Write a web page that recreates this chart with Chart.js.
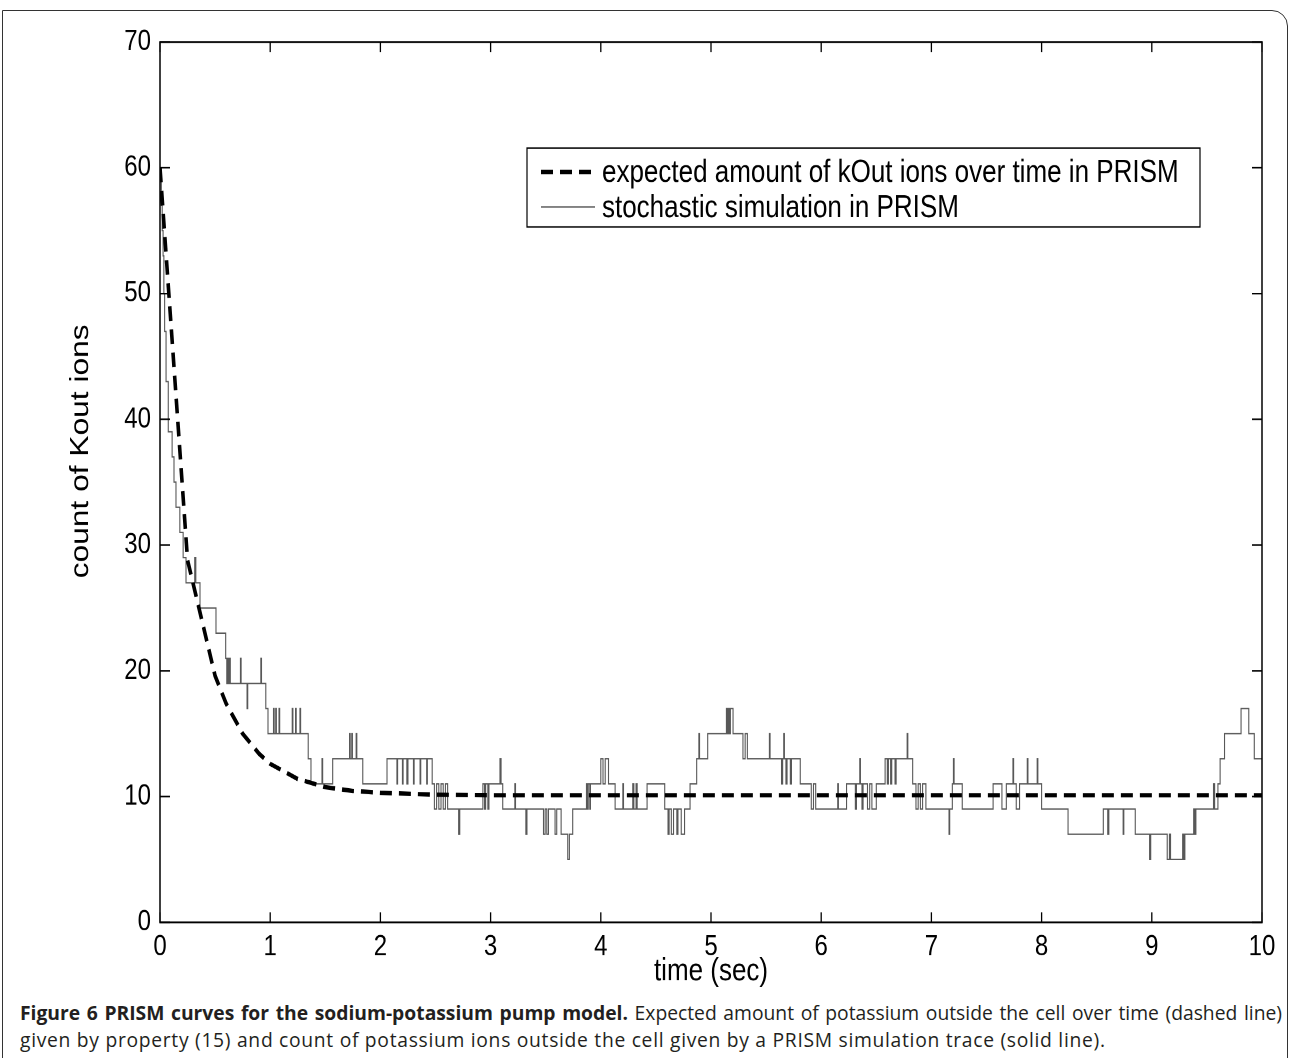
<!DOCTYPE html>
<html>
<head>
<meta charset="utf-8">
<script src="https://cdn.jsdelivr.net/npm/chart.js@4.4.1/dist/chart.umd.min.js"></script>
<style>
  html, body { margin: 0; padding: 0; background: #fff; }
  body { width: 1293px; height: 1058px; position: relative; overflow: hidden; }
  #frame { position: absolute; left: 2px; top: 10px; width: 1286px; height: 1100px;
           border: 1.5px solid #333; border-top-right-radius: 16px; box-sizing: border-box; }
  #wrap { position: absolute; left: 0; top: 0; width: 1293px; height: 812px;
          transform: scaleY(1.22); transform-origin: 0 0; }
  #caption { position: absolute; left: 20px; top: 999px; width: 1262px;
             font-family: "Open Sans", "Noto Sans", sans-serif; font-size: 19.3px; line-height: 27px; color: #231f20; }
  #caption .l1 { text-align: justify; text-align-last: justify; white-space: nowrap; }
  #caption .l2 { letter-spacing: 0.7px; white-space: nowrap; }
  #caption b { font-weight: 700; }
</style>
</head>
<body>
<div id="frame"></div>
<div id="wrap"><canvas id="c" width="1293" height="812"></canvas></div>
<div id="caption">
  <div class="l1"><b>Figure 6 PRISM curves for the sodium-potassium pump model.</b> Expected amount of potassium outside the cell over time (dashed line)</div>
  <div class="l2">given by property (15) and count of potassium ions outside the cell given by a PRISM simulation trace (solid line).</div>
</div>
<script>
// ---- data ----
const xTicks = [0,1,2,3,4,5,6,7,8,9,10];
const yTicks = [0,10,20,30,40,50,60,70];
const xTitle = 'time (sec)';
const yTitle = 'count of Kout ions';

const expLabel = "expected amount of kOut ions over time in PRISM";
const expTime  = [0, 0.25, 0.5, 0.6, 0.75, 0.9, 1.0, 1.25, 1.5, 1.75, 2.0, 2.5, 3, 4, 5, 6, 7, 8, 9, 10];
const expCount = [60, 28.8, 19.6, 17.4, 15.0, 13.4, 12.6, 11.4, 10.75, 10.45, 10.3, 10.15, 10.1, 10.1, 10.1, 10.1, 10.1, 10.1, 10.1, 10.1];

const simLabel = "stochastic simulation in PRISM";
const simTime = [0,0.012,0.02,0.028,0.035,0.042,0.055,0.075,0.11,0.127,0.145,0.18,0.21,0.236,0.315,0.325,0.363,0.508,0.596,0.606,0.612,0.62,0.63,0.638,0.73,0.736,0.79,0.796,0.915,0.921,0.96,0.98,
1.03,1.036,1.05,1.056,1.08,1.086,1.2,1.206,1.23,1.236,1.27,1.276,1.345,1.37,1.47,1.476,1.567,1.72,1.726,1.74,1.746,1.78,1.786,1.84,
2.06,2.15,2.156,2.2,2.206,2.24,2.25,2.3,2.306,2.36,2.366,2.42,2.426,2.47,2.49,2.51,2.53,2.55,2.57,2.59,2.61,2.71,2.72,2.93,2.945,2.955,2.975,2.985,
3.085,3.095,3.11,3.22,3.226,3.32,3.33,3.48,3.495,3.51,3.525,3.585,3.6,3.64,3.7,3.715,3.745,3.87,3.88,3.886,3.9,3.906,
4.0,4.02,4.04,4.07,4.13,4.2,4.206,4.29,4.3,4.32,4.33,4.42,4.58,4.61,4.62,4.64,4.66,4.69,4.7,4.73,4.76,4.81,4.87,4.89,4.896,4.97,
5.14,5.146,5.156,5.166,5.176,5.2,5.29,5.31,5.33,5.53,5.536,5.64,5.65,5.66,5.666,5.68,5.69,5.72,5.73,5.81,5.91,5.93,5.95,
6.15,6.156,6.23,6.31,6.32,6.35,6.356,6.37,6.38,6.42,6.44,6.46,6.5,6.58,6.6,6.61,6.63,6.64,6.67,6.68,6.78,6.786,6.83,6.86,6.88,6.9,6.92,6.95,
7.16,7.166,7.19,7.2,7.206,7.28,7.56,7.64,7.68,7.74,7.746,7.77,7.8,7.87,7.876,7.96,7.966,
8.0,8.24,8.56,8.6,8.61,8.74,8.746,8.85,8.98,8.99,
9.14,9.16,9.17,9.28,9.29,9.3,9.38,9.39,9.4,9.56,9.57,9.6,9.62,9.66,9.81,9.88,9.93,10];
const simCount = [60,57,55,53,50,47,43,39,37,35,33,31,29,27,29,27,25,23,21,19,21,19,21,19,21,19,17,19,21,19,17,15,
17,15,17,15,17,15,17,15,17,15,17,15,13,11,13,11,13,15,13,15,13,15,13,11,
13,11,13,11,13,11,13,11,13,11,13,11,13,11,9,11,9,11,9,11,9,7,9,11,9,11,9,11,
13,11,9,11,9,7,9,7,9,7,9,7,9,7,5,7,9,11,9,11,9,11,
13,11,13,11,9,11,9,11,9,11,9,11,9,7,9,7,9,7,9,7,9,11,13,15,13,15,
17,15,17,15,17,15,13,15,13,15,13,11,13,15,13,11,13,11,13,11,9,11,9,
11,9,11,9,11,13,11,9,11,9,11,9,11,13,11,13,11,13,11,13,15,13,11,9,11,9,11,9,
7,9,11,13,11,9,11,9,11,13,11,9,11,13,11,13,11,
9,7,9,7,9,7,9,7,5,7,
5,7,5,7,5,7,9,7,9,11,9,11,13,15,17,15,13,13];

const toPts = (xs, ys) => xs.map((x, i) => ({x: x, y: ys[i]}));

const AXIS_FONT = "'Liberation Sans', Arial, Helvetica, sans-serif";
const SY = 1.22; // the original figure is stretched vertically

// ---- plugins: box with inward ticks, and legend box ----
const boxPlugin = {
  id: 'boxTicks',
  afterDatasetsDraw(chart) {
    const {ctx, chartArea: a, scales} = chart;
    ctx.save();
    ctx.strokeStyle = '#000';
    ctx.lineWidth = 1.3;
    const LX = 10 / SY, LY = 10;
    ctx.beginPath();
    scales.x.ticks.forEach(t => {
      const px = scales.x.getPixelForValue(t.value);
      ctx.moveTo(px, a.bottom); ctx.lineTo(px, a.bottom - LX);
      ctx.moveTo(px, a.top); ctx.lineTo(px, a.top + LX);
    });
    scales.y.ticks.forEach(t => {
      const py = scales.y.getPixelForValue(t.value);
      ctx.moveTo(a.left, py); ctx.lineTo(a.left + LY, py);
      ctx.moveTo(a.right, py); ctx.lineTo(a.right - LY, py);
    });
    ctx.stroke();
    ctx.lineWidth = 1.5;
    ctx.strokeRect(a.left, a.top, a.right - a.left, a.bottom - a.top);
    ctx.restore();
  }
};

const legendPlugin = {
  id: 'boxLegend',
  afterDraw(chart) {
    const {ctx} = chart;
    const ds = chart.data.datasets;
    const bx = 527, by = 148 / SY, bw = 673, bh = 79 / SY;
    ctx.save();
    ctx.fillStyle = '#fff';
    ctx.fillRect(bx, by, bw, bh);
    ctx.strokeStyle = '#000';
    ctx.lineWidth = 1.2;
    ctx.strokeRect(bx, by, bw, bh);
    const rows = [172 / SY, 207 / SY];
    ds.forEach((d, i) => {
      const y = rows[i];
      ctx.beginPath();
      ctx.strokeStyle = d.borderColor;
      ctx.lineWidth = d.borderWidth;
      ctx.setLineDash(d.borderDash || []);
      ctx.moveTo(541, y); ctx.lineTo(595, y);
      ctx.stroke();
      ctx.setLineDash([]);
      ctx.fillStyle = '#000';
      ctx.font = "26px " + AXIS_FONT;
      ctx.textBaseline = 'middle';
      ctx.textAlign = 'left';
      ctx.fillText(d.label, 602, y + 1);
    });
    ctx.restore();
  }
};

new Chart(document.getElementById('c'), {
  type: 'line',
  data: {
    datasets: [
      { label: expLabel, data: toPts(expTime, expCount), borderColor: '#000', borderWidth: 3.6,
        borderDash: [12, 7], pointRadius: 0, tension: 0, fill: false },
      { label: simLabel, data: toPts(simTime, simCount), borderColor: '#585858', borderWidth: 1.1,
        stepped: true, pointRadius: 0, fill: false }
    ]
  },
  options: {
    responsive: false,
    animation: false,
    devicePixelRatio: 2,
    layout: { padding: { left: 60, right: 31, top: 42 / SY, bottom: 0 } },
    plugins: { legend: { display: false }, tooltip: { enabled: false } },
    scales: {
      x: {
        type: 'linear', min: 0, max: 10,
        afterBuildTicks: s => { s.ticks = xTicks.map(v => ({value: v})); },
        afterFit: s => { s.height = 56; },
        grid: { display: false, drawTicks: false },
        border: { display: false },
        ticks: { color: '#000', padding: 6, font: { family: AXIS_FONT, size: 24 }, maxRotation: 0 },
        title: { display: true, text: xTitle, color: '#000', font: { family: AXIS_FONT, size: 26 },
                 padding: { top: 0, bottom: 0 } }
      },
      y: {
        type: 'linear', min: 0, max: 70,
        afterBuildTicks: s => { s.ticks = yTicks.map(v => ({value: v})); },
        afterFit: s => { s.width = 100; },
        grid: { display: false, drawTicks: false },
        border: { display: false },
        ticks: { color: '#000', padding: 9, font: { family: AXIS_FONT, size: 24 } },
        title: { display: true, text: '\u00a0'.repeat(7) + yTitle, color: '#000', font: { family: AXIS_FONT, size: 26 },
                 padding: { top: 5, bottom: 0 } }
      }
    }
  },
  plugins: [boxPlugin, legendPlugin]
});
</script>
</body>
</html>
